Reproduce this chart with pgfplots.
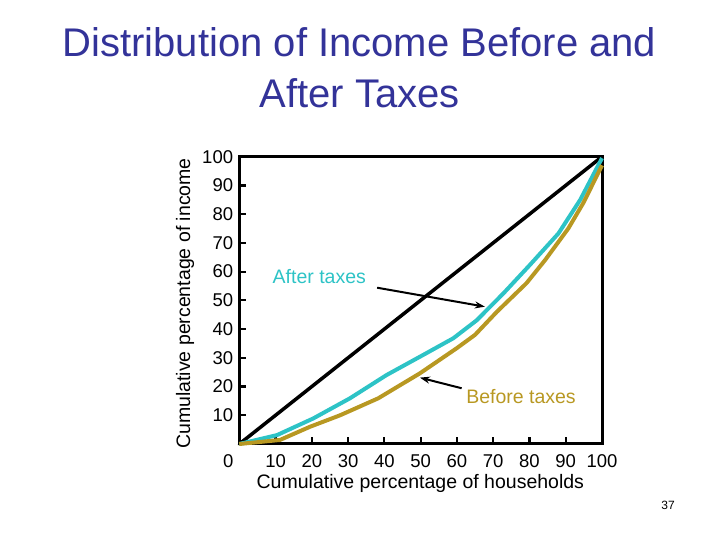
\documentclass[border=0pt]{standalone}
\usepackage{fontspec}
\setmainfont{Liberation Sans}
\usepackage{pgfplots}
\pgfplotsset{compat=1.18}
\usetikzlibrary{arrows.meta}
\definecolor{aftercol}{RGB}{45,195,198}
\definecolor{beforecol}{RGB}{184,152,34}
\definecolor{titlecol}{RGB}{51,51,153}
\begin{document}
\begin{tikzpicture}
\useasboundingbox (0pt,0pt) rectangle (720pt,540pt);
\node[titlecol, font=\fontsize{40}{46}\selectfont, anchor=base] at (359.5pt,483pt) {Distribution of Income Before and};
\node[titlecol, font=\fontsize{40}{46}\selectfont, anchor=base] at (359.5pt,432pt) {After Taxes};
\begin{axis}[
  at={(239.3pt,96pt)}, anchor=south west,
  scale only axis, width=362.7pt, height=287.3pt,
  xmin=0, xmax=100, ymin=0, ymax=100,
  clip=false,
  xtick={10,20,...,100}, ytick={10,20,...,100},
  tick pos=left, tick align=inside,
  major tick length=7pt,
  tick style={line width=2.2pt, black},
  axis line style={line width=3pt},
  ticklabel style={font=\fontsize{18.5}{20}\selectfont},
  /pgf/number format/assume math mode=true,
  xticklabel style={anchor=base, yshift=-24pt, inner sep=0pt},
  yticklabel style={anchor=east, xshift=-6pt, inner sep=0pt},
  xlabel={Cumulative percentage of households},
  xlabel style={font=\fontsize{19.5}{22}\selectfont, at={(axis description cs:0.5,0)}, anchor=base, yshift=-44.3pt, xshift=-0.3pt},
]
\addplot[black, line width=3.5pt, line cap=round] coordinates {(0,0) (100,100)};
\addplot[aftercol, line width=4pt, line join=round] coordinates {
(0,0) (10.4,3.1) (20.4,8.9) (30.5,15.9) (40.6,24) (50.7,31) (59,36.8) (65.4,43) (72.8,52.4) (80.1,62.3) (88,73.3) (94,85) (100,99.5)};
\addplot[beforecol, line width=4pt, line join=round] coordinates {
(0,0) (11.2,1.4) (19.5,6) (27.8,10) (38.3,15.9) (49.8,24.6) (59.9,33.3) (65,38) (71,46) (79.2,56) (84.3,64) (90.7,75) (94.9,84) (100,97)};
\draw[black, line width=2pt, -{Stealth[length=10pt,width=7pt]}] (axis cs:38,54.4) -- (axis cs:67.7,47.8);
\draw[black, line width=2pt, -{Stealth[length=10pt,width=7pt]}] (axis cs:61.3,19.4) -- (axis cs:49.8,23.1);
\end{axis}
\node[font=\fontsize{19.5}{22}\selectfont, anchor=base, rotate=90] at (190pt,236.5pt) {Cumulative percentage of income};
\node[aftercol, font=\fontsize{19.5}{22}\selectfont, anchor=base] at (319.3pt,256pt) {After taxes};
\node[beforecol, font=\fontsize{19.5}{22}\selectfont, anchor=base] at (521pt,136pt) {Before taxes};
\node[font=\fontsize{18.5}{20}\selectfont, anchor=base] at (228.3pt,72pt) {0};
\node[font=\fontsize{12}{14}\selectfont] at (668pt,35pt) {37};
\end{tikzpicture}
\end{document}
